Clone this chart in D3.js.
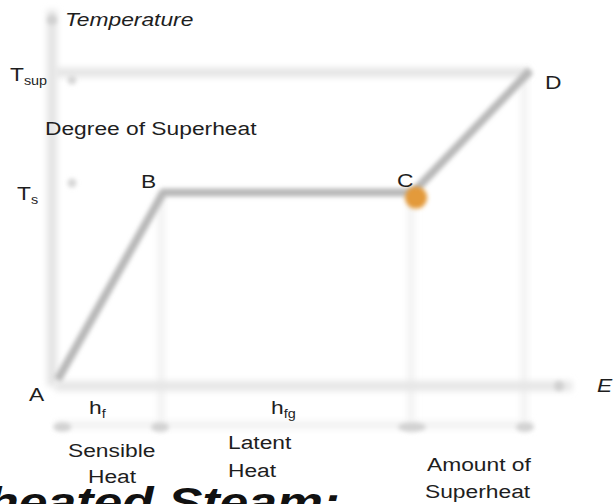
<!DOCTYPE html>
<html>
<head>
<meta charset="utf-8">
<script src="https://cdn.jsdelivr.net/npm/d3@7"></script>
<style>
  body { margin: 0; background: #fff; }
  svg { display: block; font-family: "Liberation Sans", Arial, sans-serif; }
</style>
</head>
<body>
<svg width="613" height="504"></svg>
<script>
// state points on the T-E curve
var points = ["A", "B", "C", "D"];
var energy = [0.05, 2.06, 6.82, 9.05];
var temperature = [0.14, 5.2, 5.2, 8.5];
var tickEnergy = [0.14, 2.0, 6.8, 8.95];

var width = 613, height = 504;
var sx = 1.2; // picture is stretched sideways
var svg = d3.select("svg");

var x = d3.scaleLinear().domain([0, 10]).range([55, 580]);
var y = d3.scaleLinear().domain([0, 10]).range([385, 15]);

var defs = svg.append("defs");
function blurFilter(id, sd) {
  defs.append("filter").attr("id", id)
    .attr("filterUnits", "userSpaceOnUse")
    .attr("x", 0).attr("y", 0).attr("width", width).attr("height", height)
    .append("feGaussianBlur").attr("stdDeviation", sd);
}
blurFilter("blur", 2.2);
blurFilter("blur2", 3.2);

var g = svg.append("g");

// faint vertical guides
g.selectAll(".guide").data([1, 2, 3]).enter().append("line")
  .attr("x1", i => x(energy[i]) + (i == 3 ? -6 : -2))
  .attr("x2", i => x(energy[i]) + (i == 3 ? -6 : -2))
  .attr("y1", i => y(temperature[i]))
  .attr("y2", 432)
  .attr("stroke", "#f2f2f2").attr("stroke-width", 7).attr("filter", "url(#blur2)");

// T_sup horizontal guide
g.append("line")
  .attr("x1", x(0)).attr("x2", x(energy[3]))
  .attr("y1", y(temperature[3]) + 2).attr("y2", y(temperature[3]) + 2)
  .attr("stroke", "#e4e4e4").attr("stroke-width", 9).attr("filter", "url(#blur2)");

// faint tick row
g.append("line")
  .attr("x1", x(0)).attr("x2", x(9.1))
  .attr("y1", 425).attr("y2", 425)
  .attr("stroke", "#f2f2f2").attr("stroke-width", 8).attr("filter", "url(#blur2)");
g.selectAll(".tk").data(tickEnergy).enter().append("ellipse")
  .attr("cx", d => x(d)).attr("cy", 427)
  .attr("rx", (d, i) => i == 2 ? 14 : 9).attr("ry", 4.5)
  .attr("fill", "#d2d2d2").attr("filter", "url(#blur)");

// axes
g.append("line")
  .attr("x1", x(0) - 3).attr("x2", x(0) - 3)
  .attr("y1", 10).attr("y2", 386)
  .attr("stroke", "#e4e4e4").attr("stroke-width", 10).attr("filter", "url(#blur2)");
g.append("line")
  .attr("x1", x(0)).attr("x2", x(9.85))
  .attr("y1", y(0) + 1).attr("y2", y(0) + 1)
  .attr("stroke", "#e6e6e6").attr("stroke-width", 10).attr("filter", "url(#blur2)");
g.append("circle").attr("cx", x(0) - 3).attr("cy", 20).attr("r", 5).attr("fill", "#d0d0d0").attr("filter", "url(#blur)");
g.append("circle").attr("cx", x(9.6)).attr("cy", y(0) + 1).attr("r", 5).attr("fill", "#d0d0d0").attr("filter", "url(#blur)");
g.append("circle").attr("cx", 72).attr("cy", 80).attr("r", 4.5).attr("fill", "#d6d6d6").attr("filter", "url(#blur)");
g.append("circle").attr("cx", 72).attr("cy", 183).attr("r", 4.5).attr("fill", "#d6d6d6").attr("filter", "url(#blur)");

// curve
var line = d3.line()
  .x((d, i) => x(energy[i]))
  .y((d, i) => y(temperature[i]));
g.append("path")
  .attr("d", line(points))
  .attr("fill", "none")
  .attr("stroke", "#b8b8b8").attr("stroke-width", 8)
  .attr("stroke-linejoin", "round")
  .attr("filter", "url(#blur)");

// highlight at C
g.append("circle")
  .attr("cx", x(energy[2]) + 3).attr("cy", y(temperature[2]) + 5)
  .attr("r", 11).attr("fill", "#e39a3a").attr("filter", "url(#blur)");

// labels
var txt = svg.append("g").attr("fill", "#1e1e1e").attr("font-size", 19);
function label(t, px, py, opts) {
  var el = txt.append("text").attr("transform", "translate(" + px + "," + py + ") scale(" + sx + ",1)").text(t);
  if (opts) Object.keys(opts).forEach(k => el.attr(k, opts[k]));
  return el;
}
function sub(main, s, px, py) {
  var el = txt.append("text").attr("transform", "translate(" + px + "," + py + ") scale(" + sx + ",1)");
  el.append("tspan").text(main);
  el.append("tspan").attr("font-size", 12).attr("dy", 4).text(s);
}

label("Temperature", 65, 26, {"font-style": "italic"});
sub("T", "sup", 10, 81);
label("Degree of Superheat", 45, 135);
sub("T", "s", 17, 200);
label("B", 141, 188);
label("C", 397, 187);
label("D", 545, 89);
label("A", 29, 401);
sub("h", "f", 89, 414);
sub("h", "fg", 271, 414);
label("E", 597, 392, {"font-style": "italic"});
label("Sensible", 68, 457);
label("Heat", 88, 483);
label("Latent", 228, 449);
label("Heat", 228, 477);
label("Amount of", 427, 471);
label("Superheat", 425, 498);

svg.append("text")
  .attr("transform", "translate(340,517) scale(" + sx + ",1)")
  .attr("text-anchor", "end")
  .attr("font-size", 43).attr("font-weight", "bold").attr("font-style", "italic")
  .attr("fill", "#111")
  .text("Superheated Steam:");
</script>
</body>
</html>
